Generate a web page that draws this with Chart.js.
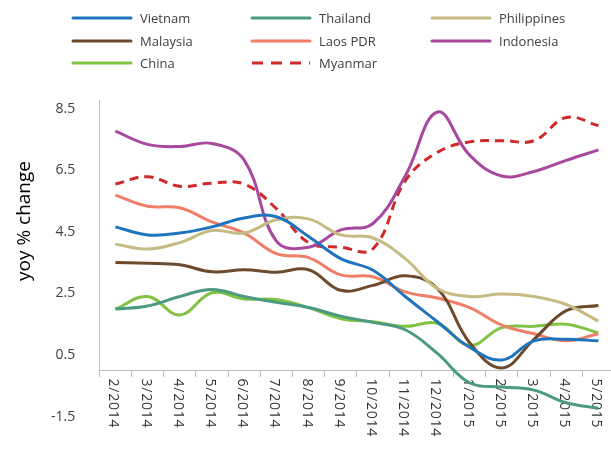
<!DOCTYPE html>
<html>
<head>
<meta charset="utf-8">
<script src="https://cdn.jsdelivr.net/npm/chart.js@4"></script>
<style>
  body { margin: 0; overflow: hidden; background: #fff; font-family: 'Open Sans', sans-serif; }
  #wrap { position: relative; width: 611px; height: 449px; overflow: hidden; }
  #chart { position: absolute; left: 0; top: 0; }
  .lg { position: absolute; display: flex; align-items: center; font-size: 13px; color: #404040; white-space: nowrap; }
  .lg svg { margin-right: 7px; }
</style>
</head>
<body>
<div id="wrap">
  <canvas id="chart" width="625" height="449"></canvas>
  <div id="legend"></div>
</div>
<script>
// === DATA ===
const months = ['2/2014','3/2014','4/2014','5/2014','6/2014','7/2014','8/2014','9/2014',
                '10/2014','11/2014','12/2014','1/2015','2/2015','3/2015','4/2015','5/2015'];
const yTicks = [-1.5, 0.5, 2.5, 4.5, 6.5, 8.5];

const vietnam     = [4.66, 4.40, 4.46, 4.66, 4.95, 4.99, 4.35, 3.63, 3.25, 2.40, 1.58, 0.75, 0.34, 0.96, 1.01, 0.96];
const thailand    = [1.99, 2.09, 2.40, 2.63, 2.40, 2.21, 2.04, 1.76, 1.56, 1.32, 0.55, -0.40, -0.54, -0.64, -1.05, -1.23];
const philippines = [4.10, 3.94, 4.15, 4.54, 4.46, 4.89, 4.92, 4.40, 4.30, 3.63, 2.66, 2.40, 2.48, 2.40, 2.14, 1.60];
const malaysia    = [3.50, 3.48, 3.43, 3.20, 3.27, 3.19, 3.27, 2.60, 2.76, 3.07, 2.66, 0.90, 0.08, 1.01, 1.94, 2.11];
const laos        = [5.69, 5.33, 5.28, 4.82, 4.46, 3.79, 3.66, 3.10, 3.04, 2.55, 2.35, 2.04, 1.47, 1.19, 0.96, 1.19];
const indonesia   = [7.77, 7.34, 7.27, 7.37, 6.83, 4.20, 4.00, 4.56, 4.77, 6.31, 8.39, 6.99, 6.31, 6.46, 6.82, 7.16];
const china       = [1.99, 2.40, 1.80, 2.52, 2.32, 2.30, 2.04, 1.68, 1.58, 1.43, 1.53, 0.81, 1.39, 1.43, 1.50, 1.22];
const myanmar     = [6.05, 6.29, 5.98, 6.08, 6.05, 5.25, 4.15, 4.00, 3.95, 6.15, 7.08, 7.42, 7.46, 7.46, 8.21, 7.95];

const series = [
  { label: 'Vietnam',     data: vietnam,     color: '#1f74bd' },
  { label: 'Thailand',    data: thailand,    color: '#4c9a82' },
  { label: 'Philippines', data: philippines, color: '#c6bb82' },
  { label: 'Malaysia',    data: malaysia,    color: '#6e4a2c' },
  { label: 'Laos PDR',    data: laos,        color: '#f07f68' },
  { label: 'Indonesia',   data: indonesia,   color: '#a8489f' },
  { label: 'China',       data: china,       color: '#80c242' },
  { label: 'Myanmar',     data: myanmar,     color: '#cf2a2a', dash: [9, 6] }
];

// === LEGEND (3 columns) ===
const legendEl = document.getElementById('legend');
const colX = [71, 250, 430];
const rowY = [18, 41, 63];
series.forEach((s, i) => {
  const item = document.createElement('div');
  item.className = 'lg';
  item.style.left = colX[i % 3] + 'px';
  item.style.top = (rowY[Math.floor(i / 3)] - 10) + 'px';
  item.style.height = '20px';
  const dash = s.dash ? `stroke-dasharray="11 8" stroke-linecap="butt"` : `stroke-linecap="round"`;
  item.innerHTML = `<svg width="62" height="6"><line x1="2" y1="3" x2="60" y2="3" stroke="${s.color}" stroke-width="3" ${dash}/></svg>${s.label}`;
  legendEl.appendChild(item);
});

// === CUSTOM AXIS DRAWING ===
const axisDecor = {
  id: 'axisDecor',
  beforeDatasetsDraw(chart) {
    const { ctx, chartArea, scales: { x, y } } = chart;
    const y0 = y.getPixelForValue(0);
    ctx.save();
    // vertical axis line, stops at the category axis
    ctx.strokeStyle = '#bfbfbf';
    ctx.lineWidth = 1;
    ctx.beginPath();
    ctx.moveTo(Math.round(chartArea.left) + 0.5, chartArea.top);
    ctx.lineTo(Math.round(chartArea.left) + 0.5, y0 + 6);
    ctx.stroke();
    // rotated category labels reading top to bottom
    ctx.fillStyle = '#333';
    ctx.font = "14px 'Open Sans'";
    ctx.letterSpacing = '0.8px';
    ctx.textAlign = 'left';
    ctx.textBaseline = 'middle';
    months.forEach((m, i) => {
      ctx.save();
      ctx.translate(x.getPixelForValue(i) - 2, y0 + 8);
      ctx.rotate(Math.PI / 2);
      ctx.fillText(m, 0, 0);
      ctx.restore();
    });
    ctx.letterSpacing = '0px';
    // y axis title
    ctx.font = "19px 'Open Sans'";
    ctx.fillStyle = '#000';
    ctx.textAlign = 'center';
    ctx.translate(25, 221);
    ctx.rotate(-Math.PI / 2);
    ctx.fillText('yoy % change', 0, 0);
    ctx.restore();
  }
};

new Chart(document.getElementById('chart'), {
  type: 'line',
  data: {
    labels: months,
    datasets: series.map(s => ({
      label: s.label,
      data: s.data,
      borderColor: s.color,
      backgroundColor: s.color,
      borderWidth: 3,
      borderDash: s.dash || [],
      tension: 0.4,
      pointRadius: 0,
      fill: false
    }))
  },
  options: {
    responsive: false,
    animation: false,
    layout: { padding: { left: 0, right: 10.5, top: 100, bottom: 16 } },
    plugins: { legend: { display: false }, tooltip: { enabled: false } },
    scales: {
      x: {
        type: 'category',
        position: { y: 0 },
        offset: true,
        grid: { offset: true, drawOnChartArea: false, tickLength: 6, color: '#bfbfbf' },
        border: { color: '#bfbfbf', width: 1 },
        ticks: { display: false }
      },
      y: {
        min: -1.5,
        max: 8.78,
        afterBuildTicks: s => { s.ticks = yTicks.map(v => ({ value: v })); },
        afterFit: s => { s.width = 99.3; },
        grid: { display: false, drawTicks: false },
        border: { display: false },
        ticks: {
          padding: 24,
          color: '#404040',
          font: { family: 'Open Sans', size: 14 },
          callback: v => v.toFixed(1)
        }
      }
    }
  },
  plugins: [axisDecor]
});
</script>
</body>
</html>
